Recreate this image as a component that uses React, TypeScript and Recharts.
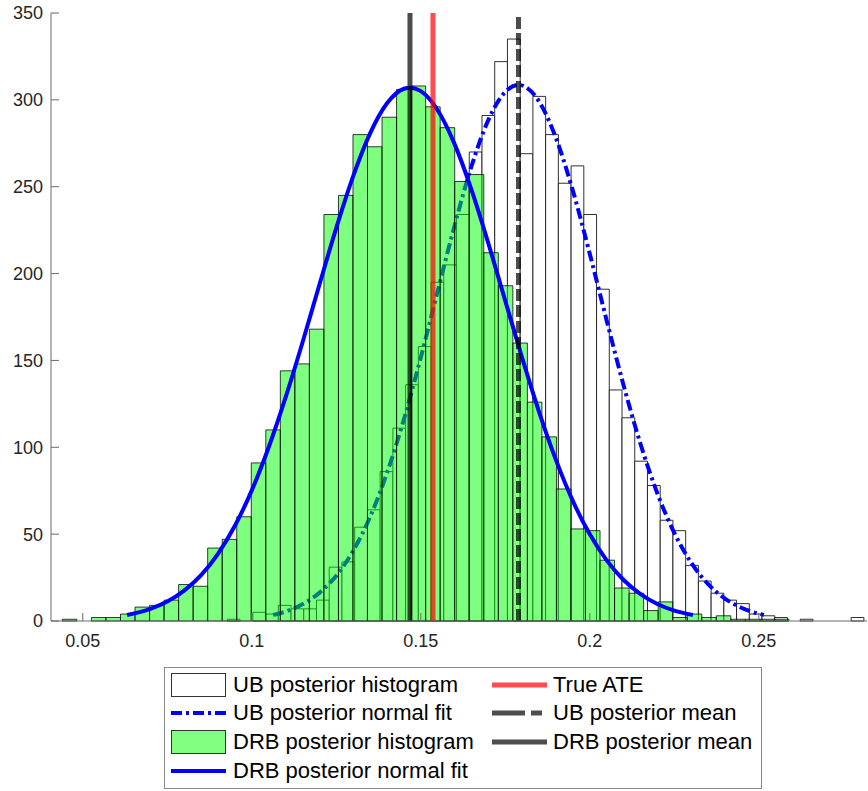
import React from 'react';
import { ComposedChart, XAxis, YAxis, Line, ReferenceArea, ReferenceLine, Legend } from 'recharts';

const FONT = '"Liberation Sans", Arial, Helvetica, sans-serif';

// axis ticks
const xTicks = [0.05, 0.1, 0.15, 0.2, 0.25];
const yTicks = [0, 50, 100, 150, 200, 250, 300, 350];

// UB posterior histogram (bin edges start + i * width)
const ubBinStart = 0.09278;
const ubBinWidth = 0.003766;
const ubCounts = [
  1, 0, 5, 4, 9, 7, 7, 12, 31, 34,
  54, 64, 86, 111, 136, 158, 195, 205, 234, 270,
  291, 322, 335, 269, 302, 280, 252, 262, 234, 191,
  133, 117, 92, 78, 58, 52, 32, 23, 16, 12,
  10, 4, 3, 2, 0, 1, 0, 0, 0, 2,
];

// DRB posterior histogram
const drbBinStart = 0.04396;
const drbBinWidth = 0.004299;
const drbCounts = [
  1, 0, 2, 2, 4, 8, 9, 12, 21, 20,
  42, 47, 60, 91, 110, 144, 148, 168, 234, 245,
  280, 273, 290, 306, 308, 296, 284, 253, 257, 212,
  193, 160, 126, 106, 76, 53, 52, 35, 19, 16,
  6, 11, 2, 4, 2, 3, 1, 1, 1, 1,
];

// normal fit curves
const ubFitX = [
  0.1063, 0.11, 0.115, 0.12, 0.125, 0.13, 0.135, 0.14, 0.145, 0.15,
  0.155, 0.16, 0.165, 0.17, 0.175, 0.1789, 0.185, 0.19, 0.195, 0.2,
  0.205, 0.21, 0.215, 0.22, 0.225, 0.23, 0.235, 0.24, 0.245, 0.25, 0.2515,
];
const ubFitY = [
  3.5, 5.4, 9.6, 16.2, 26.1, 40.4, 59.9, 85.2, 116.1, 151.7,
  189.9, 227.7, 261.8, 288.5, 304.6, 308.6, 299.0, 277.9, 247.6, 211.3,
  172.9, 135.6, 101.9, 73.4, 50.7, 33.5, 21.2, 12.9, 7.5, 4.2, 3.5,
];

const drbFitX = [
  0.0631, 0.07, 0.075, 0.08, 0.085, 0.09, 0.095, 0.1, 0.105, 0.11,
  0.115, 0.12, 0.125, 0.13, 0.135, 0.14, 0.145, 0.1468, 0.15, 0.155,
  0.16, 0.165, 0.17, 0.175, 0.18, 0.185, 0.19, 0.195, 0.2, 0.205,
  0.21, 0.215, 0.22, 0.225, 0.2305,
];
const drbFitY = [
  3.5, 7.0, 11.2, 17.5, 26.4, 38.7, 54.8, 75.2, 100.0, 128.7,
  160.3, 193.6, 226.3, 256.1, 280.7, 298.0, 306.4, 307.0, 305.0, 294.0,
  274.5, 248.2, 217.3, 184.2, 151.3, 120.3, 92.6, 69.0, 49.9, 34.9,
  23.6, 15.5, 9.8, 6.0, 3.5,
];

// vertical markers
const drbMean = 0.1468;
const trueAte = 0.1536;
const ubMean = 0.1789;

const toBins = (start: number, width: number, counts: number[]) =>
  counts
    .map((c, i) => ({ x1: start + i * width, x2: start + (i + 1) * width, y: c }))
    .filter((b) => b.y > 0);

const ubBins = toBins(ubBinStart, ubBinWidth, ubCounts);
const drbBins = toBins(drbBinStart, drbBinWidth, drbCounts);
const ubFit = ubFitX.map((x, i) => ({ x, y: ubFitY[i] }));
const drbFit = drbFitX.map((x, i) => ({ x, y: drbFitY[i] }));

type LegendItem = {
  label: string;
  col: number;
  row: number;
  kind: 'patch' | 'line';
  color: string;
  width?: number;
  dash?: string;
};

const legendItems: LegendItem[] = [
  { label: 'UB posterior histogram', col: 0, row: 0, kind: 'patch', color: '#ffffff' },
  { label: 'UB posterior normal fit', col: 0, row: 1, kind: 'line', color: '#0000ff', width: 4, dash: '11 4 3 4' },
  { label: 'DRB posterior histogram', col: 0, row: 2, kind: 'patch', color: '#80ff80' },
  { label: 'DRB posterior normal fit', col: 0, row: 3, kind: 'line', color: '#0000ff', width: 4 },
  { label: 'True ATE', col: 1, row: 0, kind: 'line', color: '#ff4d4d', width: 5 },
  { label: 'UB posterior mean', col: 1, row: 1, kind: 'line', color: '#4d4d4d', width: 5, dash: '33 6 11 6' },
  { label: 'DRB posterior mean', col: 1, row: 2, kind: 'line', color: '#4d4d4d', width: 5 },
];

function LegendBox() {
  const iconLeft = [6, 327];
  const textLeft = [68, 388];
  return (
    <div
      style={{
        boxSizing: 'border-box',
        width: 598,
        height: 122,
        border: '1px solid #8a8a8a',
        background: '#fff',
        position: 'relative',
        fontFamily: FONT,
        fontSize: 22,
        color: '#000',
      }}
    >
      {legendItems.map((it) => {
        const cy = 16.5 + it.row * 28.7;
        return (
          <React.Fragment key={it.label}>
            <svg
              width={55}
              height={24}
              style={{ position: 'absolute', left: iconLeft[it.col], top: cy - 12 }}
            >
              {it.kind === 'patch' ? (
                <rect x={0.5} y={0.5} width={54} height={23} fill={it.color} stroke="#333" strokeWidth={1} />
              ) : (
                <line
                  x1={0}
                  x2={55}
                  y1={12}
                  y2={12}
                  stroke={it.color}
                  strokeWidth={it.width}
                  strokeDasharray={it.dash}
                />
              )}
            </svg>
            <span
              style={{
                position: 'absolute',
                left: textLeft[it.col],
                top: cy - 13,
                lineHeight: '26px',
                whiteSpace: 'nowrap',
              }}
            >
              {it.label}
            </span>
          </React.Fragment>
        );
      })}
    </div>
  );
}

export default function App() {
  const axisColor = '#6b6b6b';
  const tickStyle = { fill: '#262626', fontSize: 18, fontFamily: FONT };
  return (
    <div style={{ position: 'absolute', left: 0, top: 0, width: 868, height: 791, background: '#fff', fontFamily: FONT }}>
      <ComposedChart width={868} height={791} margin={{ top: 13, right: 1, bottom: 140, left: 0 }}>
        <XAxis
          dataKey="x"
          type="number"
          domain={[0.0406, 0.282]}
          allowDataOverflow
          ticks={xTicks}
          height={30}
          tickSize={-8}
          tickMargin={21}
          tick={tickStyle}
          stroke={axisColor}
        />
        <XAxis
          xAxisId="top"
          orientation="top"
          type="number"
          domain={[0.0406, 0.282]}
          allowDataOverflow
          ticks={xTicks}
          height={0}
          tickSize={-8}
          tick={false}
          stroke={axisColor}
        />
        <YAxis
          type="number"
          domain={[0, 350]}
          allowDataOverflow
          ticks={yTicks}
          width={51}
          tickSize={-8}
          tickMargin={16}
          tick={tickStyle}
          stroke={axisColor}
        />
        <YAxis
          yAxisId="right"
          orientation="right"
          type="number"
          domain={[0, 350]}
          allowDataOverflow
          ticks={yTicks}
          width={0}
          tickSize={-8}
          tick={false}
          stroke={axisColor}
        />

        {ubBins.map((b, i) => (
          <ReferenceArea
            key={`ub-${i}`}
            x1={b.x1}
            x2={b.x2}
            y1={0}
            y2={b.y}
            fill="#ffffff"
            fillOpacity={1}
            stroke="#1a1a1a"
            strokeWidth={0.9}
            zIndex={110}
          />
        ))}
        <Line
          data={ubFit}
          dataKey="y"
          type="monotone"
          stroke="#0000ff"
          strokeWidth={4}
          strokeDasharray="11 4 3 4"
          dot={false}
          activeDot={false}
          isAnimationActive={false}
          zIndex={120}
        />
        {drbBins.map((b, i) => (
          <ReferenceArea
            key={`drb-${i}`}
            x1={b.x1}
            x2={b.x2}
            y1={0}
            y2={b.y}
            fill="#00ff00"
            fillOpacity={0.5}
            stroke="#000000"
            strokeOpacity={0.85}
            strokeWidth={0.9}
            zIndex={130}
          />
        ))}
        <Line
          data={drbFit}
          dataKey="y"
          type="monotone"
          stroke="#0000ff"
          strokeWidth={4}
          dot={false}
          activeDot={false}
          isAnimationActive={false}
          zIndex={140}
        />
        <ReferenceLine x={trueAte} stroke="#ff0000" strokeOpacity={0.7} strokeWidth={5} zIndex={150} />
        <ReferenceLine x={ubMean} stroke="#000000" strokeOpacity={0.7} strokeWidth={5} strokeDasharray="12 4" zIndex={150} />
        <ReferenceLine x={drbMean} stroke="#000000" strokeOpacity={0.7} strokeWidth={5} zIndex={150} />

        <Legend
          layout="vertical"
          align="center"
          verticalAlign="middle"
          wrapperStyle={{ left: 164, top: 667, width: 598, height: 122 }}
          content={() => <LegendBox />}
        />
      </ComposedChart>
    </div>
  );
}
